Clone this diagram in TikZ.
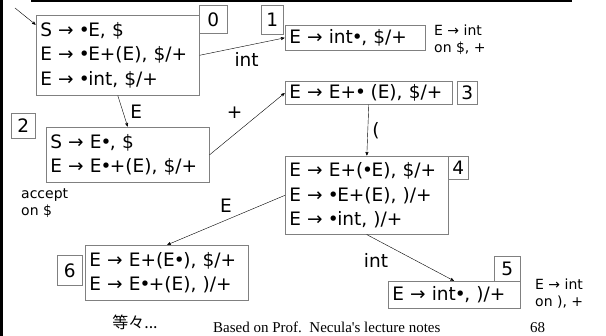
\documentclass[tikz,border=0pt]{standalone}
\usepackage{fontspec}
\setmainfont{DejaVu Sans}
\newfontfamily\cjkfont{Noto Sans CJK JP}
\newfontfamily\footfont{Liberation Serif}
\usetikzlibrary{arrows,positioning}
\newcommand{\bul}{\kern-1pt•\kern-1.5pt}

\begin{document}
\begin{tikzpicture}[
    x=1pt, y=-1pt,
    state/.style={draw=gray, line width=0.6pt, anchor=north west, align=left,
      inner xsep=4pt, inner ysep=0pt, font=\fontsize{18.5}{24.5}\selectfont},
    num/.style={draw=gray, line width=0.6pt, anchor=north west, inner sep=0pt,
      font=\fontsize{18.5}{22}\selectfont},
    note/.style={anchor=north west, align=left, inner sep=0pt,
      font=\fontsize{14}{17}\selectfont},
    lab/.style={font=\fontsize{18.5}{22}\selectfont},
    trans/.style={->, >=stealth', thin, shorten >=0.5pt},
    every node/.style={color=black}
    ]
\useasboundingbox (0,0) rectangle (606,336);
% frame
\fill (0,0) rectangle (3,336);
\draw[line width=2pt] (31,1) -- (572,1);
% states
\node[state, text width=155pt, minimum height=80pt] (s0) at (36,15)
  {S → \bul E, \$\\E → \bul E+(E), \$/+\\E → \bul int, \$/+};
\node[state, text width=132pt, minimum height=25pt] (s1) at (285,25) {E → int\bul, \$/+};
\node[state, text width=155pt, minimum height=55pt] (s2) at (46,127)
  {S → E\bul, \$\\E → E\bul+(E), \$/+};
\node[state, text width=159pt, minimum height=23pt] (s3) at (285,81) {E → E+\bul\ (E), \$/+};
\node[state, text width=155pt, minimum height=78pt] (s4) at (285,156)
  {E → E+(\bul E), \$/+\\E → \bul E+(E), )/+\\E → \bul int, )/+};
\node[state, text width=124pt, minimum height=27pt] (s5) at (388,281) {E → int\bul, )/+};
\node[state, text width=155pt, minimum height=55pt] (s6) at (85,245)
  {E → E+(E\bul), \$/+\\E → E\bul+(E), )/+};
% state numbers
\node[num, minimum width=28pt, minimum height=28pt] (n0) at (199,5) {0};
\node[num, minimum width=22pt, minimum height=29pt] (n1) at (261,5) {1};
\node[num, minimum width=24pt, minimum height=25pt] (n2) at (11,113) {2};
\node[num, minimum width=20pt, minimum height=23pt] (n3) at (457,81) {3};
\node[num, minimum width=20pt, minimum height=23pt] (n4) at (448,156) {4};
\node[num, minimum width=26pt, minimum height=25pt] (n5) at (494,256) {5};
\node[num, minimum width=25pt, minimum height=30pt] (n6) at (57,255) {6};
% notes
\node[note] (red1) at (434,25) {E → int\\on \$, +};
\node[note] (red5) at (535,279) {E → int\\on ), +};
\node[note] (acc) at (21,188) {accept\\on \$};
\node[font=\cjkfont\fontsize{16}{18}\selectfont] (etc) at (135,322) {等々...};
\node[font=\footfont\fontsize{15}{17}\selectfont, anchor=base west, inner sep=0pt]
  (foot) at (213,333) {Based on Prof.\ \ Necula's lecture notes};
\node[font=\footfont\fontsize{15}{17}\selectfont, anchor=base west, inner sep=0pt]
  (page) at (530,333) {68};
% transitions
\coordinate (st) at (15,8);
\draw[trans] (st) -- ([yshift=-10pt]s0.north west);
\draw[trans] (s0.east) -- (s1.west) node[lab, pos=0.55, below=3pt] (t01) {int};
\draw[trans] (s0.south) -- (s2.north) node[lab, midway, right=4pt] (t02) {E};
\draw[trans] (s2.east) -- (s3.west) node[lab, midway, above left=2pt] (t23) {+};
\draw[trans] (s3.south) -- (s4.north) node[lab, midway, right=1pt] (t34) {(};
\draw[trans] (s4.west) -- (s6.north) node[lab, midway, above=4pt] (t46) {E};
\draw[trans] (s4.south) -- (s5.north) node[lab, pos=0.3, below left=2pt] (t45) {int};
\end{tikzpicture}
\end{document}
